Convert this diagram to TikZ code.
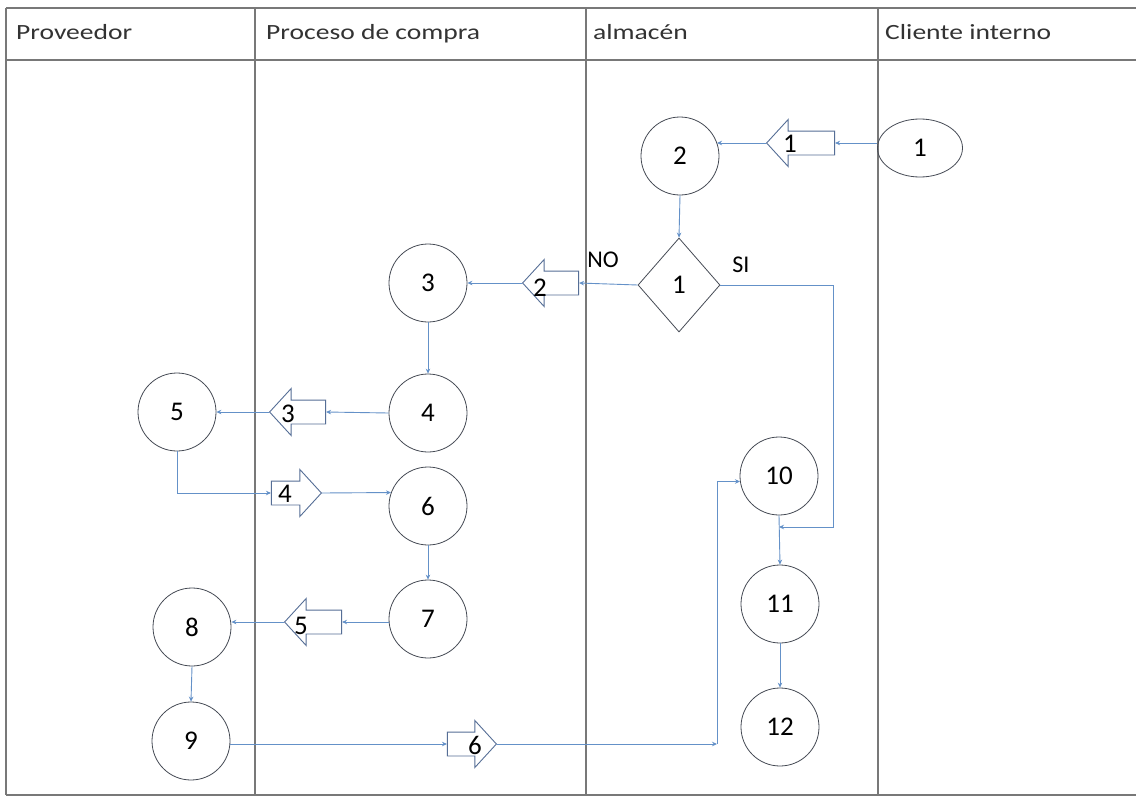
\documentclass[tikz,border=0pt]{standalone}
\usepackage{fontspec}
\setmainfont{Carlito}
\newfontfamily\headfont{Carlito}[FakeStretch=1.27]
\usetikzlibrary{shapes.geometric,shapes.arrows,arrows.meta}

\definecolor{lanegray}{RGB}{120,120,120}
\definecolor{flowblue}{RGB}{100,145,200}
\definecolor{shapeedge}{RGB}{70,75,85}
\definecolor{blockedge}{RGB}{85,110,150}

\begin{document}
\begin{tikzpicture}[x=1pt,y=-1pt,
  lane/.style={draw=lanegray,line width=1.8pt},
  lanehead/.style={anchor=base west,inner sep=0pt,text=black!80,font=\headfont\fontsize{21.7}{24}\selectfont},
  proc/.style={circle,draw=shapeedge,line width=0.8pt,minimum size=78pt,inner sep=0pt,
    font=\fontsize{27}{29}\selectfont},
  startshape/.style={ellipse,draw=shapeedge,line width=0.8pt,minimum width=85pt,minimum height=58pt,
    inner sep=0pt,font=\fontsize{27}{29}\selectfont},
  decision/.style={diamond,draw=shapeedge,line width=0.8pt,minimum width=82pt,minimum height=94pt,
    inner sep=0pt,font=\fontsize{27}{29}\selectfont},
  blockarrow/.style={single arrow,draw=blockedge,line width=0.9pt,inner xsep=0pt,inner ysep=11.5pt,
    single arrow head extend=11.5pt,single arrow tip angle=95,single arrow head indent=0pt,
    minimum height=#1,anchor=tip},
  toleft/.style={shape border rotate=180},
  blocklabel/.style={inner sep=0pt,font=\fontsize{27}{29}\selectfont},
  answer/.style={inner sep=0pt,font=\fontsize{24}{26}\selectfont},
  flow/.style={draw=flowblue,line width=0.9pt,-{Stealth[length=5pt,width=4.5pt]}}
]
\useasboundingbox (0,0) rectangle (1136,798);
\fill[white] (0,0) rectangle (1136,798);

% swimlane grid
\draw[lane] (6,8) -- (1136,8);
\draw[lane] (6,60) -- (1136,60);
\draw[lane] (6,795) -- (1136,795);
\draw[lane] (6,8) -- (6,795);
\draw[lane] (255,8) -- (255,795);
\draw[lane] (586,8) -- (586,795);
\draw[lane] (878,8) -- (878,795);

\node[lanehead] (h1) at (16,39) {Proveedor};
\node[lanehead] (h2) at (266,39) {Proceso de compra};
\node[lanehead] (h3) at (593,39) {almacén};
\node[lanehead] (h4) at (885,39) {Cliente interno};

% activities
\node[startshape] (e1) at (920,148) {1};
\node[proc] (c2) at (680,156) {2};
\node[decision] (d1) at (679,285) {1};
\node[proc] (c3) at (428,283) {3};
\node[proc] (c4) at (428,413) {4};
\node[proc] (c5) at (177,412) {5};
\node[proc] (c6) at (428,506) {6};
\node[proc] (c7) at (428,619) {7};
\node[proc] (c8) at (192,627) {8};
\node[proc] (c9) at (191,741) {9};
\node[proc] (c10) at (779,476) {10};
\node[proc] (c11) at (780,604) {11};
\node[proc] (c12) at (780,727) {12};

% transport arrows
\node[blockarrow=68pt,toleft] (a1) at (766,143) {};
\node[blockarrow=56pt,toleft] (a2) at (522,283) {};
\node[blockarrow=56pt,toleft] (a3) at (269,412) {};
\node[blockarrow=50pt] (a4) at (322,493) {};
\node[blockarrow=57pt,toleft] (a5) at (284,622) {};
\node[blockarrow=49pt] (a6) at (497,744) {};

\node[blocklabel] (t1) at (790,144) {1};
\node[blocklabel] (t2) at (540,288) {2};
\node[blocklabel] (t3) at (288,414) {3};
\node[blocklabel] (t4) at (285,494) {4};
\node[blocklabel] (t5) at (301,626) {5};
\node[blocklabel] (t6) at (475,745) {6};

\node[answer] (no) at (603,260) {NO};
\node[answer] (si) at (741,265) {SI};

% connectors
\coordinate (k1) at (717,744);
\coordinate (k2) at (833,527);

\draw[flow] (a1.tail -| e1.west) -- (a1.tail);
\draw[flow] (a1.tip) -- (a1.tip -| c2.20);
\draw[flow] (c2.south) -- (d1.north);
\draw[flow] (d1.west) -- (a2.tail);
\draw[flow] (a2.tip) -- (c3.east);
\draw[flow] (c3.south) -- (c4.north);
\draw[flow] (c4.west) -- (a3.tail);
\draw[flow] (a3.tip) -- (c5.east);
\draw[flow] (c5.south) |- (a4.tail);
\draw[flow] (a4.tip) -- (c6.160);
\draw[flow] (c6.south) -- (c7.north);
\draw[flow] (a5.tail -| c7.west) -- (a5.tail);
\draw[flow] (a5.tip) -- (a5.tip -| c8.east);
\draw[flow] (c8.south) -- (c9.north);
\draw[flow] (c9.east |- a6.tail) -- (a6.tail);
\draw[flow] (a6.tip) -- (k1);
\draw[flow] (k1) |- (c10.188);
\draw[flow] (c10.south) -- (c11.north);
\draw[flow] (d1.east) -| (k2) -- (k2 -| c10.south);
\draw[flow] (c11.south) -- (c12.north);
\end{tikzpicture}
\end{document}
